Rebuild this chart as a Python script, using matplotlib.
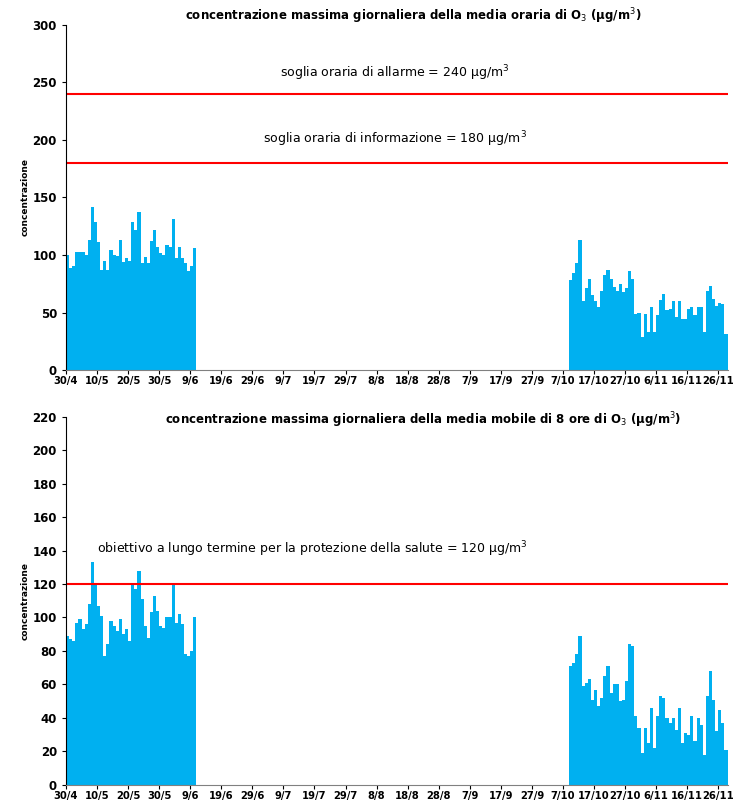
import matplotlib.pyplot as plt
import numpy as np
import datetime as dt

start = dt.date(2010, 4, 30)
n_days = 213

# massima media oraria
orario_1 = [100, 89, 90, 103, 103, 103, 100, 113, 142, 129, 111, 87, 95, 87, 104, 100, 99, 113, 94, 97, 95,
            129, 122, 137, 93, 98, 93, 112, 122, 107, 102, 100, 109, 107, 131, 97, 107, 97, 93, 86, 90, 106]
orario_2 = [78, 84, 93, 113, 60, 71, 79, 65, 60, 55, 69, 83, 87, 79, 72, 69, 75, 68, 71, 86, 79, 49, 50, 29,
            49, 33, 55, 33, 48, 61, 66, 52, 53, 60, 46, 60, 44, 44, 53, 55, 48, 55, 55, 33, 69, 73, 62, 56, 58, 57, 31]
# massima media mobile 8 ore
mobile_1 = [89, 87, 86, 97, 99, 93, 96, 108, 133, 120, 107, 101, 77, 84, 98, 95, 92, 99, 90, 93, 86,
            120, 117, 128, 111, 95, 88, 103, 113, 104, 95, 94, 100, 100, 120, 97, 102, 96, 78, 77, 80, 100]
mobile_2 = [71, 73, 78, 89, 59, 61, 63, 51, 57, 47, 52, 65, 71, 55, 60, 60, 50, 51, 62, 84, 83, 41, 34, 19,
            34, 25, 46, 22, 41, 53, 52, 40, 37, 40, 33, 46, 25, 31, 30, 41, 26, 40, 36, 18, 53, 68, 51, 32, 45, 37, 21]
start_2 = 162

tick_labels = []
for d in range(0, n_days, 10):
    day = start + dt.timedelta(days=d)
    tick_labels.append(f"{day.day}/{day.month}")


def serie(a, b):
    v = np.full(n_days, np.nan)
    v[:len(a)] = a
    v[start_2:start_2 + len(b)] = b
    return v


blu = '#00B0F0'
fig = plt.figure(figsize=(7.45, 8.01), dpi=100)
ax1 = fig.add_axes([0.0886, 0.538, 0.888, 0.431])
ax2 = fig.add_axes([0.0886, 0.02, 0.888, 0.460])

for ax, vals, ymax, step in [(ax1, serie(orario_1, orario_2), 300, 50),
                              (ax2, serie(mobile_1, mobile_2), 220, 20)]:
    ax.bar(np.arange(n_days) + 0.5, np.nan_to_num(vals), width=1.0, color=blu, linewidth=0)
    ax.set_xlim(0, n_days)
    ax.set_ylim(0, ymax)
    ax.set_yticks(np.arange(0, ymax + 1, step))
    ax.set_xticks(np.arange(0, n_days, 10))
    ax.set_xticklabels(tick_labels)
    ax.spines['top'].set_visible(False)
    ax.spines['right'].set_visible(False)
    ax.spines['left'].set_color('black')
    ax.spines['bottom'].set_color('#808080')
    ax.tick_params(axis='x', labelsize=7.2, length=3, pad=1)
    ax.tick_params(axis='y', labelsize=8.5, length=3)
    for lb in ax.get_xticklabels() + ax.get_yticklabels():
        lb.set_fontweight('bold')
    ax.set_ylabel('concentrazione', fontsize=6.5, fontweight='bold', labelpad=2)

ax1.axhline(240, color='red', lw=1.5)
ax1.axhline(180, color='red', lw=1.5)
ax1.text(106, 258, 'soglia oraria di allarme = 240 µg/m$^3$', ha='center', va='center', fontsize=9)
ax1.text(106, 201, 'soglia oraria di informazione = 180 µg/m$^3$', ha='center', va='center', fontsize=9)
fig.text(413 / 745, 1 - 16 / 801,
         'concentrazione massima giornaliera della media oraria di O$_3$ (µg/m$^3$)',
         ha='center', va='center', fontsize=8.5, fontweight='bold')

ax2.axhline(120, color='red', lw=1.5)
ax2.text(10, 141, 'obiettivo a lungo termine per la protezione della salute = 120 µg/m$^3$',
         ha='left', va='center', fontsize=9)
fig.text(423 / 745, 1 - 420 / 801,
         'concentrazione massima giornaliera della media mobile di 8 ore di O$_3$ (µg/m$^3$)',
         ha='center', va='center', fontsize=8.5, fontweight='bold')

fig.savefig('out.png', dpi=100)
